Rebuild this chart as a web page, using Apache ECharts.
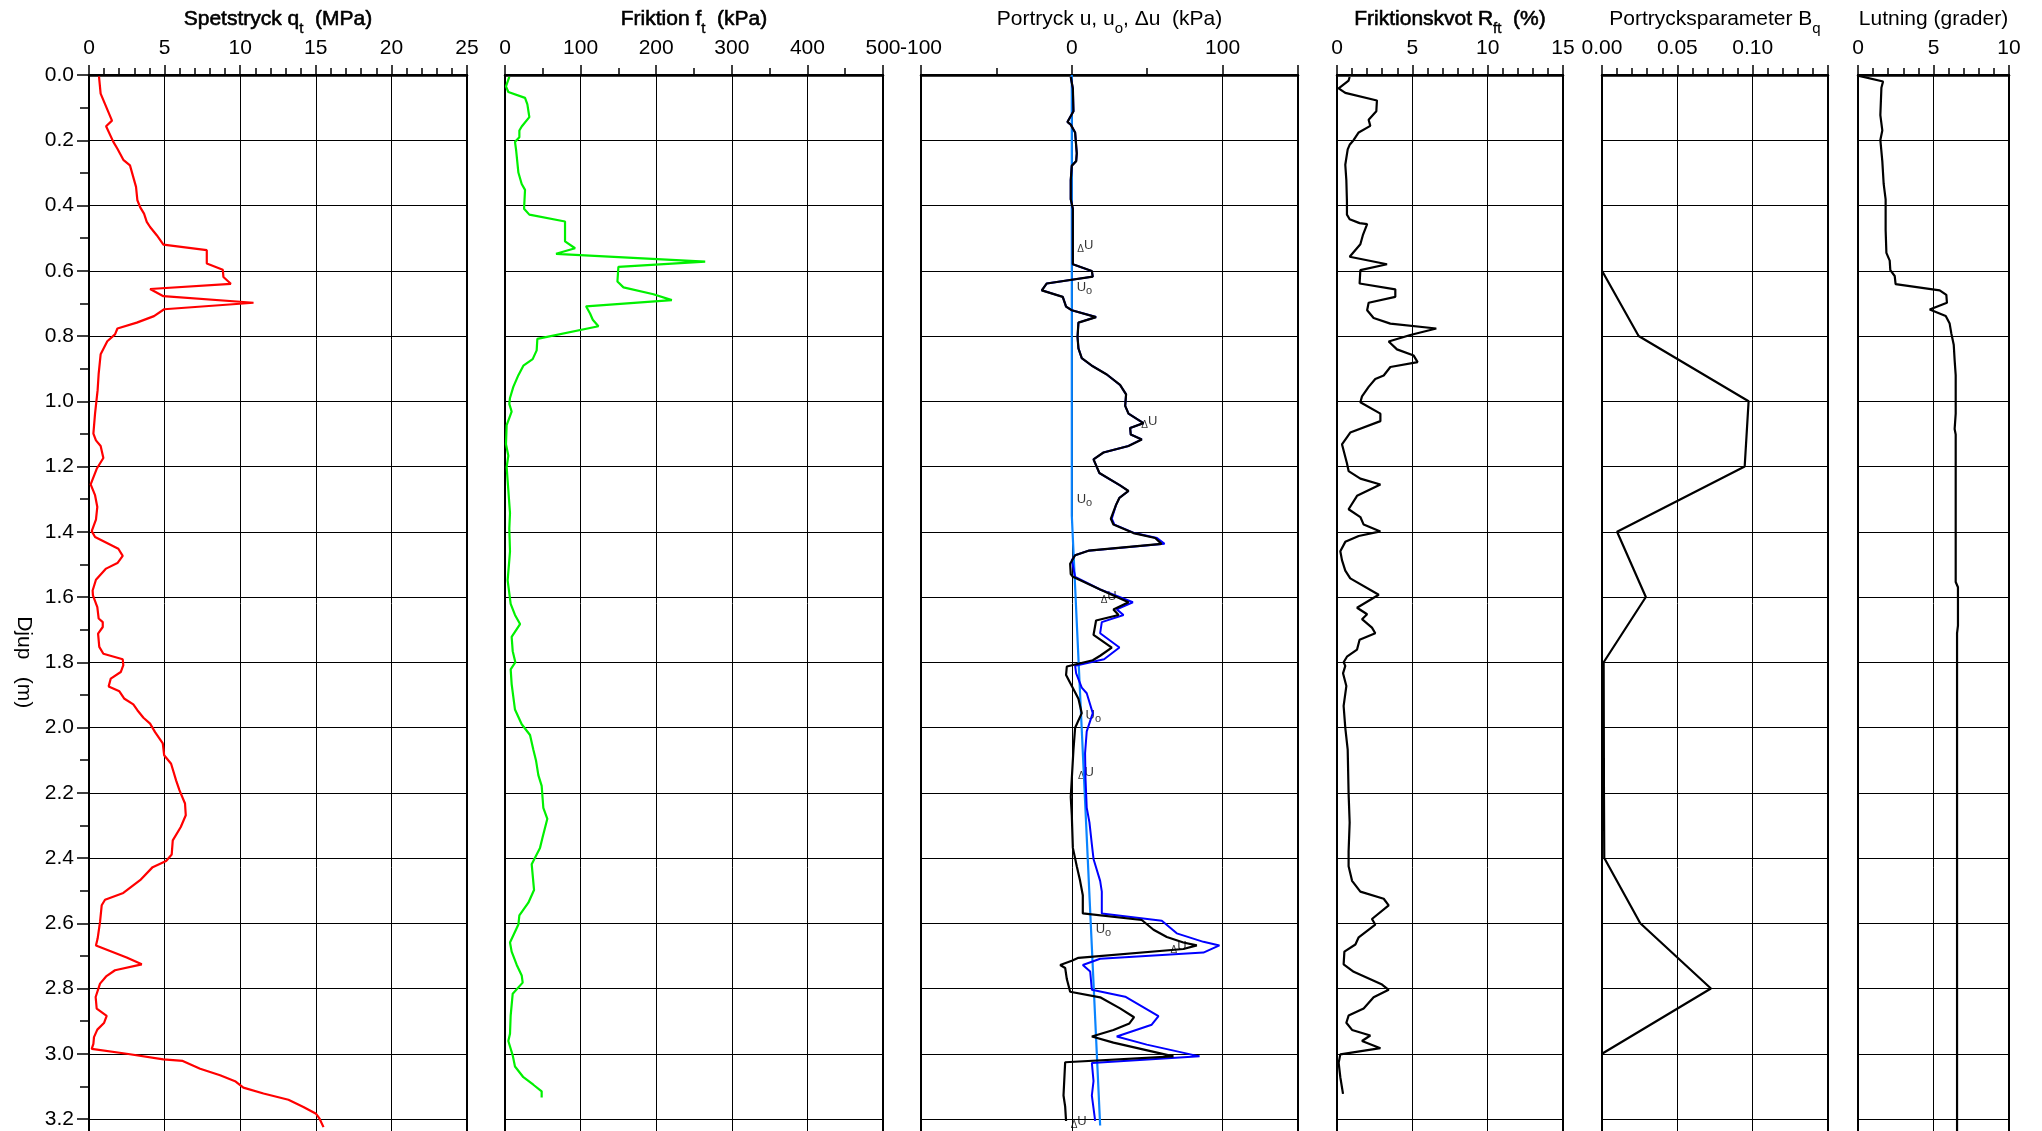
<!DOCTYPE html>
<html><head><meta charset="utf-8">
<script src="https://cdn.jsdelivr.net/npm/echarts/dist/echarts.min.js"></script>
<style>html,body{margin:0;padding:0;background:#fff}#c{width:2042px;height:1131px}</style>
</head><body><div id="c"></div>
<script>
// ---------------- DATA ----------------
// depth axis (m)
const depthScale = [0, 3.6, 0.2, 0.1];           // min, max, major, minor
// x scales: min, max, major step, minor step
const qtScale  = [0, 25, 5, 1];
const ftScale  = [0, 500, 100, 50];
const uScale   = [-100, 150, 100, 50];
const rfScale  = [0, 15, 5, 1];
const bqScale  = [0, 0.15, 0.05, 0.01];
const lutScale = [0, 10, 5, 1];

const titles = [
  ['Spetstryck q', 't', '  (MPa)'],
  ['Friktion f', 't', '  (kPa)'],
  ['Portryck u, u', 'o', ', \u0394u  (kPa)'],
  ['Friktionskvot R', 'ft', '  (%)'],
  ['Portrycksparameter B', 'q', ''],
  ['Lutning (grader)', '', '']
];
const depthName = 'Djup   (m)';

// [depth m, qt MPa]
const qtData = [[0.004,0.66],[0.057,0.77],[0.14,1.52],[0.157,1.13],[0.205,1.61],[0.226,1.88],[0.26,2.27],[0.277,2.71],[0.343,3.11],[0.384,3.2],[0.405,3.38],[0.425,3.64],[0.45,3.82],[0.466,4.04],[0.491,4.48],[0.52,4.92],[0.537,7.79],[0.578,7.79],[0.597,8.85],[0.619,8.89],[0.64,9.38],[0.656,4.04],[0.678,4.92],[0.698,10.88],[0.718,4.97],[0.739,4.30],[0.759,3.16],[0.777,1.88],[0.795,1.72],[0.816,1.21],[0.856,0.77],[0.915,0.64],[0.966,0.57],[1.038,0.40],[1.099,0.29],[1.12,0.46],[1.137,0.77],[1.174,0.95],[1.207,0.51],[1.255,0.11],[1.288,0.40],[1.324,0.55],[1.363,0.46],[1.398,0.18],[1.416,0.40],[1.452,1.94],[1.474,2.23],[1.496,1.88],[1.513,1.13],[1.547,0.46],[1.58,0.24],[1.595,0.26],[1.631,0.55],[1.666,0.64],[1.677,0.91],[1.692,0.91],[1.712,0.60],[1.753,0.68],[1.774,0.95],[1.791,2.23],[1.809,2.27],[1.83,2.10],[1.85,1.44],[1.874,1.30],[1.889,2.01],[1.911,2.32],[1.929,2.93],[1.947,3.20],[1.97,3.6],[1.988,4.04],[2.014,4.37],[2.049,4.88],[2.085,4.97],[2.111,5.43],[2.162,5.76],[2.192,5.98],[2.233,6.35],[2.269,6.40],[2.305,6.07],[2.346,5.54],[2.389,5.47],[2.409,5.10],[2.428,4.21],[2.468,3.38],[2.507,2.27],[2.528,1.06],[2.545,0.84],[2.596,0.73],[2.647,0.57],[2.668,0.46],[2.705,2.49],[2.726,3.49],[2.744,1.72],[2.763,1.13],[2.785,0.73],[2.826,0.44],[2.862,0.51],[2.884,1.17],[2.906,0.99],[2.926,0.55],[2.949,0.33],[2.97,0.29],[2.985,0.18],[3.0,2.49],[3.017,4.92],[3.022,6.20],[3.046,7.35],[3.066,8.67],[3.084,9.66],[3.104,10.21],[3.122,11.54],[3.141,13.19],[3.163,14.18],[3.184,15.02],[3.199,15.25],[3.225,15.51]];

// [depth m, ft kPa]
const ftData = [[0.006,5.7],[0.035,1.3],[0.052,4.4],[0.07,26.5],[0.09,29.6],[0.129,32.2],[0.158,22.1],[0.17,19],[0.191,19],[0.205,13.2],[0.228,14.6],[0.299,17.7],[0.334,22.1],[0.352,26.5],[0.41,25.2],[0.428,32.2],[0.449,79.4],[0.51,79.4],[0.531,92.7],[0.548,67.5],[0.572,264.8],[0.588,150],[0.633,148.7],[0.651,156.7],[0.672,196.4],[0.69,220.7],[0.709,107.2],[0.731,112.5],[0.75,116.1],[0.77,123.6],[0.809,42.8],[0.844,41.9],[0.871,36.6],[0.891,24.3],[0.92,17.7],[0.956,11],[0.99,6.6],[1.008,5.7],[1.032,8.8],[1.073,2.2],[1.132,1.3],[1.167,4.4],[1.202,2.2],[1.272,4.4],[1.343,6.6],[1.39,5.7],[1.46,6.6],[1.487,5.7],[1.549,3.5],[1.621,7.5],[1.655,13.2],[1.683,19.9],[1.722,8.8],[1.766,10.2],[1.8,13.7],[1.822,7.5],[1.867,8.8],[1.945,13.2],[1.99,22.1],[2.023,33.1],[2.068,37.5],[2.101,41],[2.146,44.1],[2.179,48.5],[2.246,50.7],[2.28,56],[2.335,49.9],[2.369,46.3],[2.419,35.3],[2.498,38.4],[2.537,30.9],[2.576,19],[2.604,17.7],[2.659,6.6],[2.687,8.8],[2.727,15.4],[2.76,22.1],[2.782,23.4],[2.816,10.2],[2.883,7.5],[2.939,6.6],[2.961,4.4],[3.005,10.2],[3.039,13.2],[3.072,24.3],[3.095,37.5],[3.115,48.5],[3.134,48.5]];

// [depth m, u0 kPa]
const u0Data = [[0,0],[1.35,0],[3.22,18.8]];

// [depth m, u kPa]
const uData = [[0.006,-0.7],[0.041,0.7],[0.111,1.1],[0.144,-2.9],[0.152,-0.7],[0.176,2.2],[0.24,3.3],[0.264,2.9],[0.278,0],[0.322,-0.7],[0.381,-0.7],[0.41,0.7],[0.58,0.7],[0.601,13.3],[0.618,13.9],[0.639,-16.6],[0.66,-19.9],[0.68,-6],[0.71,-3.8],[0.721,0],[0.742,16.1],[0.759,4.4],[0.803,3.8],[0.838,4.4],[0.868,6.6],[0.891,13.3],[0.918,23.2],[0.95,32],[0.979,36],[1.014,35.4],[1.038,37.6],[1.067,47.5],[1.082,38.7],[1.102,39.1],[1.117,46.4],[1.137,37.6],[1.157,21],[1.178,14.4],[1.22,18.3],[1.258,32],[1.275,37.6],[1.296,31.6],[1.317,29.4],[1.36,26.5],[1.378,28.3],[1.404,41.5],[1.419,56.5],[1.437,61.5],[1.458,11.1],[1.472,2.2],[1.487,0],[1.538,2.2],[1.577,18.8],[1.616,40.5],[1.638,29.8],[1.655,34.3],[1.677,19.9],[1.711,18.8],[1.755,31.6],[1.791,21.4],[1.811,2.2],[1.834,2.9],[1.878,6.6],[1.895,9.9],[1.956,13.9],[2.012,9.9],[2.079,8.8],[2.157,9.1],[2.246,9.9],[2.291,11.7],[2.358,13.3],[2.403,14.4],[2.47,18.8],[2.503,19.9],[2.57,19.9],[2.592,59.7],[2.631,69.6],[2.657,87.3],[2.668,97.9],[2.69,87.3],[2.709,18.8],[2.728,7.3],[2.748,12.2],[2.804,13.3],[2.825,35.4],[2.885,57.5],[2.911,53],[2.947,29.8],[2.972,49.7],[3.008,84.7],[3.028,13.3],[3.084,14.4],[3.128,13.3],[3.206,15.5]];

// [depth m, du kPa]
const duData = [[0.006,-0.7],[0.041,0.7],[0.111,1.1],[0.144,-2.9],[0.152,-0.7],[0.176,2.2],[0.24,3.3],[0.264,2.9],[0.278,0],[0.322,-0.7],[0.381,-0.7],[0.41,0.7],[0.58,0.7],[0.601,13.3],[0.618,13.9],[0.639,-16.6],[0.66,-19.9],[0.68,-6],[0.71,-3.8],[0.721,0],[0.742,16.1],[0.759,4.4],[0.803,3.8],[0.838,4.4],[0.868,6.6],[0.891,13.3],[0.918,23.2],[0.95,32],[0.979,36],[1.014,35.4],[1.038,37.6],[1.067,47.5],[1.082,38.7],[1.102,39.1],[1.117,46.4],[1.137,37.6],[1.157,21],[1.178,14.4],[1.22,18.3],[1.258,32],[1.275,37.6],[1.296,31.6],[1.317,29.4],[1.36,25.9],[1.378,27.6],[1.404,40.9],[1.419,55.3],[1.437,59.5],[1.458,11.1],[1.472,2.2],[1.498,-1.1],[1.53,-0.7],[1.538,0.7],[1.577,18.8],[1.616,37.6],[1.638,27.6],[1.655,31],[1.672,16.1],[1.716,14.4],[1.755,26.5],[1.78,18.8],[1.794,13.9],[1.813,-3.3],[1.839,-3.8],[1.873,0],[1.912,4.4],[1.956,6.6],[2.001,2.2],[2.068,1.1],[2.157,0],[2.213,-0.7],[2.269,0],[2.369,0.7],[2.425,3.3],[2.47,5.5],[2.514,7.3],[2.57,7.3],[2.59,46.4],[2.62,54.2],[2.642,63],[2.659,74],[2.668,82.9],[2.679,74],[2.706,4.4],[2.715,0],[2.728,-7.7],[2.737,-4.4],[2.771,-3.3],[2.81,-1.1],[2.827,18.8],[2.861,32],[2.888,41.3],[2.907,38.2],[2.927,27.6],[2.947,13.3],[2.966,27.6],[3.008,67.4],[3.026,-4.4],[3.128,-5.5],[3.162,-4.4],[3.206,-3.8]];

// curve labels in the pore pressure panel: [kind, u kPa, depth m]
const porLabels = [['du',3.3,0.522],['uo',2.9,0.651],['du',45.8,1.061],['uo',2.9,1.302],['du',18.8,1.599],['uo',8.8,1.962],['du',3.7,2.137],['uo',15.5,2.62],['du',65.2,2.671],['du',-1.1,3.206]];

// [depth m, Rf %]
const rfData = [[0.006,0.84],[0.017,0.77],[0.041,0.11],[0.055,0.55],[0.078,2.65],[0.111,2.61],[0.137,2.1],[0.156,2.21],[0.176,1.44],[0.199,1.11],[0.214,0.84],[0.228,0.71],[0.275,0.55],[0.322,0.62],[0.387,0.66],[0.428,0.66],[0.442,0.84],[0.454,1.5],[0.457,2.0],[0.489,1.73],[0.519,1.55],[0.557,0.84],[0.58,3.32],[0.598,1.55],[0.639,1.5],[0.657,3.87],[0.68,3.87],[0.698,2.1],[0.721,2.0],[0.745,2.43],[0.762,3.54],[0.777,6.59],[0.797,4.87],[0.817,3.43],[0.841,3.98],[0.86,5.09],[0.88,5.35],[0.895,3.54],[0.921,3.1],[0.932,2.54],[0.956,2.1],[0.985,1.66],[1.003,1.55],[1.038,2.88],[1.061,2.88],[1.096,0.88],[1.132,0.33],[1.19,0.66],[1.214,0.77],[1.237,1.55],[1.255,2.88],[1.29,1.33],[1.331,0.77],[1.355,1.55],[1.378,1.77],[1.399,2.88],[1.413,1.44],[1.431,0.55],[1.46,0.22],[1.487,0.33],[1.519,0.55],[1.543,0.88],[1.593,2.77],[1.633,1.33],[1.653,2.0],[1.668,1.66],[1.694,2.32],[1.711,2.54],[1.731,1.5],[1.761,1.33],[1.783,0.66],[1.8,0.44],[1.811,0.55],[1.834,0.4],[1.873,0.62],[1.934,0.44],[2.001,0.55],[2.068,0.71],[2.202,0.77],[2.291,0.84],[2.38,0.77],[2.425,0.77],[2.47,1.0],[2.503,1.55],[2.525,3.1],[2.545,3.43],[2.587,2.32],[2.604,2.54],[2.643,1.44],[2.665,1.22],[2.687,0.49],[2.726,0.44],[2.749,1.11],[2.788,2.99],[2.804,3.43],[2.827,2.43],[2.861,1.77],[2.883,0.77],[2.905,0.62],[2.927,1.0],[2.944,2.21],[2.961,1.66],[2.983,2.88],[3.002,0.22],[3.028,0.11],[3.072,0.22],[3.123,0.4]];

// [depth m, Bq]
const bqData = [[0.6,0],[0.8,0.0243],[1.0,0.0973],[1.2,0.0947],[1.4,0.010],[1.6,0.0291],[1.8,0.0011],[2.0,0.0012],[2.2,0.0013],[2.4,0.0015],[2.6,0.0254],[2.8,0.0723],[3.0,0]];

// [depth m, inclination deg]
const lutData = [[0.002,0],[0.02,1.66],[0.039,1.55],[0.123,1.48],[0.17,1.61],[0.199,1.48],[0.264,1.61],[0.334,1.7],[0.381,1.83],[0.475,1.83],[0.545,1.88],[0.569,2.1],[0.598,2.14],[0.616,2.43],[0.641,2.49],[0.66,5.41],[0.674,5.85],[0.698,5.89],[0.719,4.75],[0.739,5.81],[0.762,6.07],[0.792,6.18],[0.827,6.34],[0.874,6.4],[0.92,6.47],[1.038,6.47],[1.085,6.4],[1.102,6.47],[1.554,6.47],[1.57,6.62],[1.688,6.62],[1.711,6.56],[3.238,6.56]];

// ---------------- LAYOUT / STYLE ----------------
const FONT = '"Liberation Sans", Arial, Helvetica, sans-serif';
const TOP = 75, PX_PER_M = 326.25;
const gridH = (depthScale[1] - depthScale[0]) * PX_PER_M;

const panels = [
  {left: 89,   width: 378, scale: qtScale,  bold: true,  fmt: v => String(v)},
  {left: 505,  width: 378, scale: ftScale,  bold: true,  fmt: v => String(v)},
  {left: 921,  width: 377, scale: uScale,   bold: false, fmt: v => (v > 140 ? '' : String(v))},
  {left: 1337, width: 226, scale: rfScale,  bold: true,  fmt: v => String(v)},
  {left: 1602, width: 226, scale: bqScale,  bold: false, fmt: v => (v > 0.14 ? '' : v.toFixed(2))},
  {left: 1858, width: 151, scale: lutScale, bold: false, fmt: v => String(v)}
];

function titleText(t) {
  let s = '{m|' + t[0] + '}';
  if (t[1]) s += '{s|' + t[1] + '}';
  if (t[2]) s += '{m|' + t[2] + '}';
  return s;
}

const grids = [], xAxes = [], yAxes = [];
panels.forEach((p, i) => {
  grids.push({left: p.left, top: TOP, width: p.width, height: gridH,
    outerBoundsMode: 'none', containLabel: false,
    show: true, borderColor: '#000', borderWidth: 2, backgroundColor: 'transparent'});
  const bw = p.bold ? 0.6 : 0;
  xAxes.push({
    gridIndex: i, type: 'value', position: 'top',
    min: p.scale[0], max: p.scale[1], interval: p.scale[2],
    axisLine: {show: true, onZero: false, lineStyle: {color: '#000', width: 2.5}},
    axisTick: {show: true, length: 10, lineStyle: {color: '#000', width: 1.5}},
    axisLabel: {show: true, margin: 16, fontSize: 21, color: '#000', fontFamily: FONT, formatter: p.fmt},
    splitLine: {show: true, lineStyle: {color: '#000', width: 1}},
    name: titleText(titles[i]), nameLocation: 'middle', nameGap: 39, nameMoveOverlap: false,
    nameTextStyle: {
      fontFamily: FONT, color: '#000', fontSize: 21, lineHeight: 34,
      rich: {
        m: {fontFamily: FONT, color: '#000', fontSize: 21, lineHeight: 34, textBorderColor: '#000', textBorderWidth: bw},
        s: {fontFamily: FONT, color: '#000', fontSize: 15, verticalAlign: 'bottom', textBorderColor: '#000', textBorderWidth: bw * 0.7}
      }
    }
  });
  xAxes.push({
    gridIndex: i, type: 'value', position: 'top',
    min: p.scale[0], max: p.scale[1], interval: p.scale[3],
    axisLine: {show: false, onZero: false},
    axisTick: {show: true, length: 7, lineStyle: {color: '#000', width: 1.5}},
    axisLabel: {show: false}, splitLine: {show: false}
  });
  const first = i === 0;
  yAxes.push({
    gridIndex: i, type: 'value', inverse: true,
    min: depthScale[0], max: depthScale[1], interval: depthScale[2],
    axisLine: {show: true, onZero: false, lineStyle: {color: '#000', width: 2}},
    axisTick: {show: first, length: 12, lineStyle: {color: '#000', width: 1.5}},
    minorTick: {show: first, splitNumber: Math.round(depthScale[2] / depthScale[3]), length: 9, lineStyle: {color: '#000', width: 1.5}},
    axisLabel: {show: first, margin: 15, fontSize: 21, color: '#000', fontFamily: FONT, formatter: v => v.toFixed(1)},
    splitLine: {show: true, lineStyle: {color: '#000', width: 1}},
    name: first ? depthName : '', nameLocation: 'middle', nameGap: 55, nameRotate: -90, nameMoveOverlap: false,
    nameTextStyle: {fontFamily: FONT, color: '#000', fontSize: 21}
  });
});

function lineSeries(data, panel, color, width) {
  return {
    type: 'line', xAxisIndex: panel * 2, yAxisIndex: panel,
    data: data.map(([d, v]) => [v, d]),
    showSymbol: false, symbol: 'none', clip: true, silent: true,
    lineStyle: {color: color, width: width || 2},
    itemStyle: {color: color}
  };
}

const series = [
  lineSeries(qtData, 0, '#ff0000', 2.2),
  lineSeries(ftData, 1, '#00f000', 2.2),
  lineSeries(u0Data, 2, '#0a84ff', 2.2),
  lineSeries(uData, 2, '#0000ff', 2),
  lineSeries(duData, 2, '#000000', 2.2),
  {
    type: 'scatter', xAxisIndex: 4, yAxisIndex: 2, silent: true,
    symbolSize: 1, itemStyle: {color: 'rgba(0,0,0,0)'},
    data: porLabels.map(([k, u, d]) => ({name: k, value: [u, d]})),
    label: {
      show: true, position: 'right', distance: 0,
      formatter: p => p.name === 'du' ? '{d|\u0394}{u|U}' : '{u|U}{o|o}',
      rich: {
        d: {fontFamily: FONT, fontSize: 10, color: '#000', verticalAlign: 'bottom'},
        u: {fontFamily: FONT, fontSize: 13, color: '#000', lineHeight: 18},
        o: {fontFamily: FONT, fontSize: 11, color: '#000', verticalAlign: 'bottom'}
      }
    }
  },
  lineSeries(rfData, 3, '#000000', 2.2),
  lineSeries(bqData, 4, '#000000', 2.2),
  lineSeries(lutData, 5, '#000000', 2.2)
];

const chart = echarts.init(document.getElementById('c'), null, {renderer: 'canvas'});
chart.setOption({
  backgroundColor: '#ffffff',
  animation: false,
  textStyle: {fontFamily: FONT},
  grid: grids, xAxis: xAxes, yAxis: yAxes, series: series
});
</script>
</body></html>
